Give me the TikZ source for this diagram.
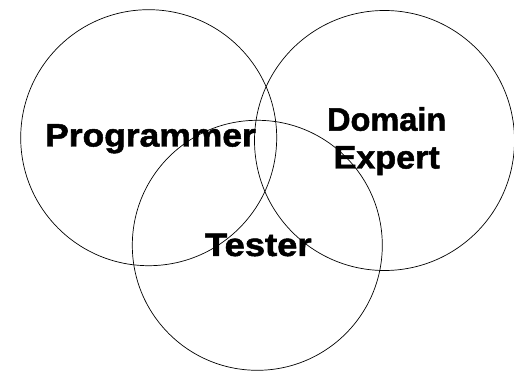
\documentclass[tikz,border=0pt]{standalone}
\usepackage{fontspec}
\setmainfont{Liberation Sans}[BoldFeatures={FakeBold=1.5}]
\begin{document}
\begin{tikzpicture}[x=1pt,y=-1pt,
  ring/.style={draw=black,line width=0.7pt,circle,inner sep=0pt,fill=none},
  lab/.style={font=\bfseries\fontsize{32.5}{38}\selectfont,anchor=base,inner sep=0pt}]
\useasboundingbox (0,0) rectangle (514,371);
\node[ring,minimum size=256pt] (prog) at (148.7,137.7) {};
\node[ring,minimum size=260pt] (dom) at (384.5,140.5) {};
\node[ring,minimum size=250pt] (test) at (257.3,245.3) {};
\node[lab,xscale=1.09] (tprog) at (150.5,146.5) {Programmer};
\node[lab] (tdom) at (386.7,130.7) {Domain};
\node[lab,xscale=1.05] (texp) at (386.7,168.5) {Expert};
\node[lab,xscale=1.12] (ttest) at (258.3,256) {Tester};
\end{tikzpicture}
\end{document}
